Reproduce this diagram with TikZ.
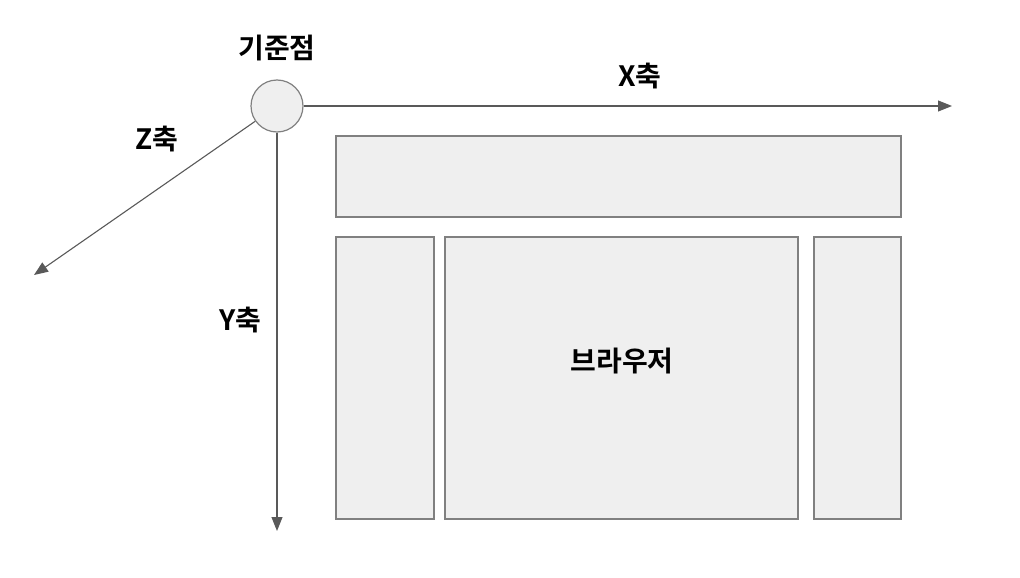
\documentclass[tikz,border=0pt]{standalone}
\usepackage{fontspec}
\newfontfamily\kr{Noto Sans CJK KR Bold}
\usetikzlibrary{arrows.meta}
\definecolor{boxfill}{HTML}{EFEFEF}
\definecolor{boxline}{HTML}{808080}
\definecolor{axisline}{HTML}{595959}
\begin{document}
\begin{tikzpicture}[x=1pt,y=-1pt,
  panel/.style={draw=boxline,fill=boxfill,line width=1.2pt},
  axis/.style={draw=axisline,line width=1.1pt,-{Triangle[length=14pt,width=11pt]}},
  lbl/.style={font=\kr\fontsize{28}{33}\selectfont,text=black,inner sep=0pt}]
\useasboundingbox (0,0) rectangle (1020,578);
\node[panel,circle,minimum size=52pt,inner sep=0pt] (origin) at (277,106) {};
\coordinate (xend) at (952,106);
\coordinate (yend) at (277,531);
\coordinate (zend) at (34,275);
\draw[axis] (origin.east) -- (xend);
\draw[axis] (origin.south) -- (yend);
\draw[axis] (origin.-145) -- (zend);
\draw[panel] (336,136) rectangle (901,217);
\draw[panel] (336,237) rectangle (434,519);
\draw[panel] (445,237) rectangle (798,519);
\draw[panel] (814,237) rectangle (901,519);
\node[lbl] (lorigin) at (277,48) {기준점};
\node[lbl] (lx) at (640,76) {X축};
\node[lbl] (lz) at (157,139) {Z축};
\node[lbl] (ly) at (240,320) {Y축};
\node[lbl] (lbrowser) at (622,361) {브라우저};
\end{tikzpicture}
\end{document}
